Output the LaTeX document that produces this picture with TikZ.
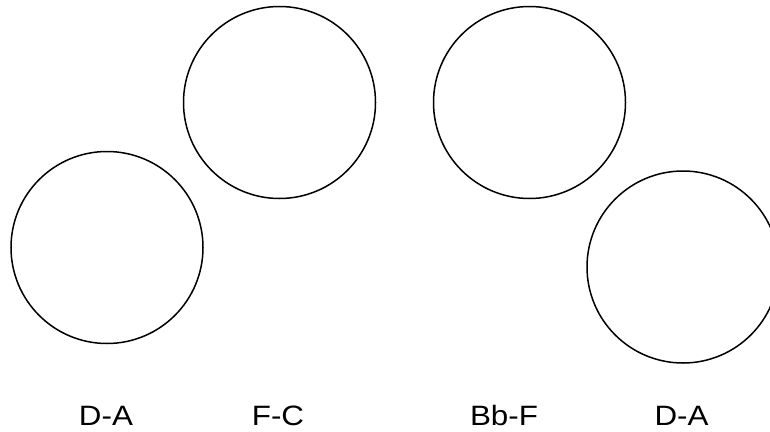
\documentclass[tikz,border=0pt]{standalone}
\usepackage{fontspec}
\setmainfont{Liberation Sans}
\begin{document}
\begin{tikzpicture}[x=1pt,y=-1pt,
  ring/.style={draw=black,line width=1.5pt,circle,minimum size=192pt,inner sep=0pt},
  lbl/.style={anchor=base,inner sep=0pt,font=\fontsize{28}{30}\selectfont,xscale=1.12}]
\useasboundingbox (0,0) rectangle (770,431);
\node[ring] (c1) at (107,247.5) {};
\node[ring] (c2) at (279.5,102.5) {};
\node[ring] (c3) at (529.5,102.5) {};
\node[ring] (c4) at (683,267) {};
\node[lbl] (t1) at (106,425.5) {D-A};
\node[lbl] (t2) at (278,425.5) {F-C};
\node[lbl] (t3) at (504,425.5) {Bb-F};
\node[lbl] (t4) at (681.5,425.5) {D-A};
\end{tikzpicture}
\end{document}
